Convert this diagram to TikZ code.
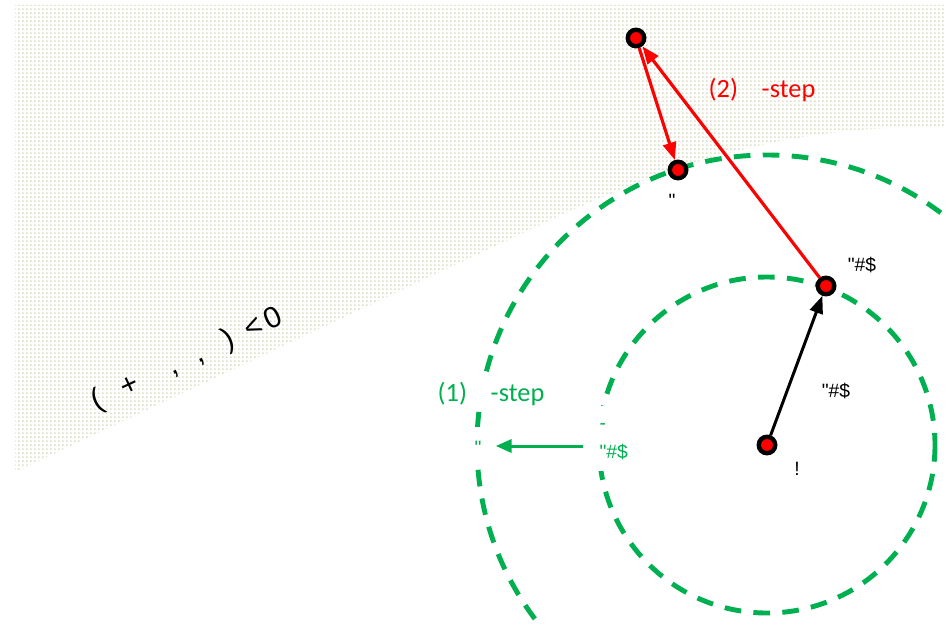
\documentclass[tikz,border=0pt]{standalone}
\usepackage{fontspec}
\setmainfont{Liberation Sans}
\newfontfamily\calfont{Carlito}
\usetikzlibrary{arrows.meta, patterns.meta}

\definecolor{kgreen}{RGB}{0,176,80}
\definecolor{dotc}{RGB}{222,222,200}

\tikzdeclarepattern{
  name=fdots,
  type=uncolored,
  bounding box={(0pt,0pt) and (2pt,2pt)},
  tile size={(2pt,2pt)},
  code={\fill (0pt,0pt) rectangle (1pt,1pt);}
}

\begin{document}
\begin{tikzpicture}[
    x=0.02cm, y=-0.02cm,
    pt/.style = {circle, draw=black, line width=2.5pt, fill=red, minimum size=0.33cm, inner sep=0pt},
    ring/.style = {draw=kgreen, line width=2.8pt, dash pattern=on 9.5pt off 7pt},
    blkarrow/.style = {-{Triangle[length=10pt,width=7.5pt]}, line width=1.7pt, draw=black},
    redarrow/.style = {-{Triangle[length=10pt,width=7.5pt]}, line width=1.8pt, draw=red},
    grnarrow/.style = {-{Triangle[length=9pt,width=7.5pt]}, line width=1.7pt, draw=kgreen},
    lbl/.style = {font=\fontsize{11}{13}\selectfont, inner sep=1pt, anchor=base},
    steplbl/.style = {font=\calfont\fontsize{15}{18}\selectfont, inner sep=2pt}
]
\useasboundingbox (0,0) rectangle (945,625);

% Dotted half plane
\fill[pattern=fdots, pattern color=dotc] (15,5) -- (945,5) -- (945,126)
    .. controls (800,128) and (700,150) .. (540,225) -- (15,472) -- cycle;
\node[rotate=25, font=\fontsize{17}{20}\selectfont] (cond) at (187,360)
    {(\hspace{13pt}+\hspace{19pt},\hspace{12pt},\hspace{13.5pt})\hspace{8pt}<\hspace{2.5pt}0};

% Trust regions round the current point
\node[pt] (c) at (767,445) {};
\draw[ring] (c.center) circle[radius=168];
\draw[ring] (c.center) circle[radius=290];

% Points
\node[pt] (pin) at (826,286) {};
\node[pt] (pout) at (678,170) {};
\node[pt] (ptop) at (636,38) {};

% Labels
\node[lbl] (lc) at (797,475) {!};
\node[lbl] (lin) at (862,271) {\textquotedbl\#\$};
\node[lbl] (lout) at (672,207) {\textquotedbl};
\node[lbl] (lmid) at (836,397) {\textquotedbl\#\$};
\node[steplbl, text=red] (s2) at (762,90) {(2)\hspace{0.9em}-step};
\node[steplbl, text=kgreen, fill=white] (s1) at (491,394) {(1)\hspace{0.9em}-step};
\node[lbl, text=kgreen, fill=white, anchor=center, text height=10pt, text depth=0pt, minimum height=22pt] (gq) at (478,446) {\textquotedbl};
\node[lbl, text=kgreen, fill=white, anchor=west, align=left, inner sep=2pt, xshift=-3pt, font=\fontsize{11}{16.5}\selectfont] (gx) at (601,438) {\strut-\\\strut\textquotedbl\#\$};

% Steps
\draw[blkarrow] (c) -- (pin);
\draw[redarrow] (pin) -- (ptop);
\draw[redarrow] (ptop) -- (pout);
\draw[grnarrow, shorten <=7pt, shorten >=7pt] (gx.west |- gq.east) -- (gq.east);

\end{tikzpicture}
\end{document}
